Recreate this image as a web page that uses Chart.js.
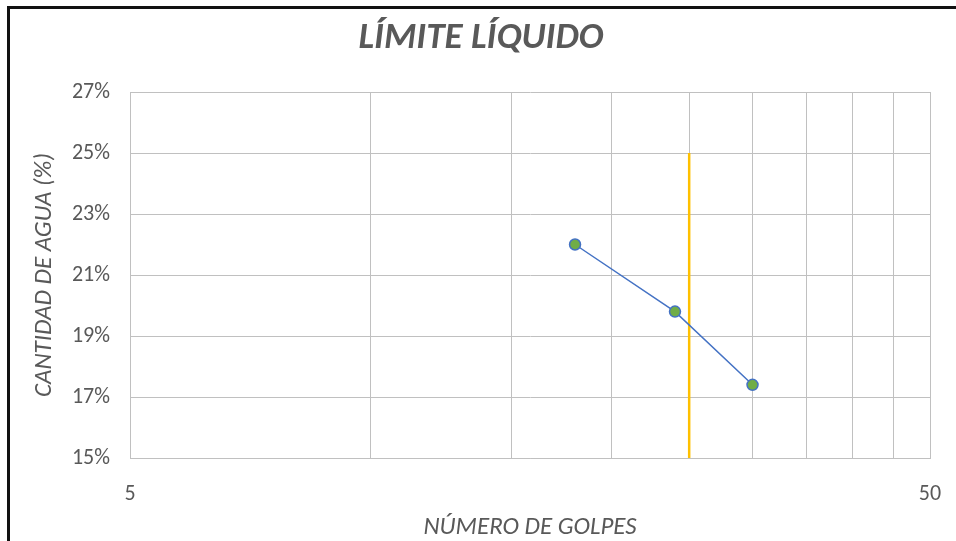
<!DOCTYPE html>
<html>
<head>
<meta charset="utf-8">
<script src="https://cdn.jsdelivr.net/npm/chart.js@4"></script>
<style>
  html, body { margin: 0; padding: 0; background: #fff; }
  #wrap { position: relative; width: 956px; height: 541px; overflow: hidden; }
  #frame {
    position: absolute; left: 7px; top: 6px; width: 960px; height: 560px;
    border-left: 3px solid #111; border-top: 3px solid #111; box-sizing: border-box;
    pointer-events: none;
  }
  canvas { position: absolute; left: 0; top: 0; }
</style>
</head>
<body>
<div id="wrap">
  <canvas id="chart" width="956" height="541"></canvas>
  <div id="frame"></div>
</div>
<script>
// ensayo de limite liquido: golpes vs contenido de agua
const golpes = [18, 24, 30];
const humedad = [22.0, 19.8, 17.4];
// linea de referencia a 25 golpes
const golpesRef = [25, 25];
const humedadRef = [15, 25];
// ticks del eje x (escala log) y los que llevan etiqueta
const xTicks = [5, 10, 15, 20, 25, 30, 35, 40, 45, 50];
const xTickLabels = [5, 50];

const FONT = "Carlito, 'Liberation Sans Narrow', Lato, sans-serif";
const GREY = '#595959';
const GRID = '#c0c0c0';

const titlePlugin = {
    id: 'tituloGrafico',
    afterDraw(chart) {
        const ctx = chart.ctx;
        ctx.save();
        ctx.font = `italic bold 37px ${FONT}`;
        ctx.fillStyle = GREY;
        ctx.textAlign = 'center';
        ctx.textBaseline = 'middle';
        ctx.fillText('LÍMITE LÍQUIDO', 481, 39);
        ctx.restore();
    }
};

new Chart(document.getElementById('chart').getContext('2d'), {
    type: 'scatter',
    data: {
        datasets: [{
            label: 'Ensayo',
            data: golpes.map((g, i) => ({ x: g, y: humedad[i] })),
            showLine: true,
            borderColor: '#4472C4',
            borderWidth: 1.5,
            backgroundColor: '#70AD47',
            pointBackgroundColor: '#70AD47',
            pointBorderColor: '#4472C4',
            pointBorderWidth: 1.5,
            pointRadius: 5.5
        }, {
            label: '25 golpes',
            data: golpesRef.map((g, i) => ({ x: g, y: humedadRef[i] })),
            showLine: true,
            borderColor: '#FFC000',
            borderWidth: 2.5,
            pointRadius: 0
        }]
    },
    options: {
        responsive: false,
        animation: false,
        layout: { padding: { left: 27, top: 92, right: 26, bottom: 0 } },
        plugins: {
            legend: { display: false },
            title: { display: false },
            tooltip: { enabled: false }
        },
        scales: {
            x: {
                type: 'logarithmic',
                min: 5,
                max: 50,
                afterBuildTicks: (scale) => {
                    scale.ticks = xTicks.map(v => ({ value: v }));
                },
                afterFit: (scale) => {
                    scale.height = 83;
                    scale.paddingLeft = 0;
                    scale.paddingRight = 0;
                },
                grid: { color: GRID, lineWidth: 1, drawTicks: false },
                border: { color: GRID, width: 1 },
                ticks: {
                    autoSkip: false,
                    maxRotation: 0,
                    padding: 23,
                    color: GREY,
                    font: { family: FONT, size: 22 },
                    callback: (v) => xTickLabels.includes(v) ? String(v) : ''
                },
                title: {
                    display: true,
                    text: 'NÚMERO DE GOLPES',
                    color: GREY,
                    font: { family: FONT, size: 25, style: 'italic' },
                    padding: { top: 0, bottom: -2 }
                }
            },
            y: {
                min: 15,
                max: 27,
                afterFit: (scale) => { scale.width = 103; },
                grid: { color: GRID, lineWidth: 1, drawTicks: false },
                border: { color: GRID, width: 1 },
                ticks: {
                    stepSize: 2,
                    padding: 20,
                    color: GREY,
                    font: { family: FONT, size: 22 },
                    callback: (v) => v + '%'
                },
                title: {
                    display: true,
                    text: 'CANTIDAD DE AGUA (%)',
                    color: GREY,
                    font: { family: FONT, size: 25, style: 'italic' },
                    padding: { top: 3, bottom: 0 }
                }
            }
        }
    },
    plugins: [titlePlugin]
});
</script>
</body>
</html>
